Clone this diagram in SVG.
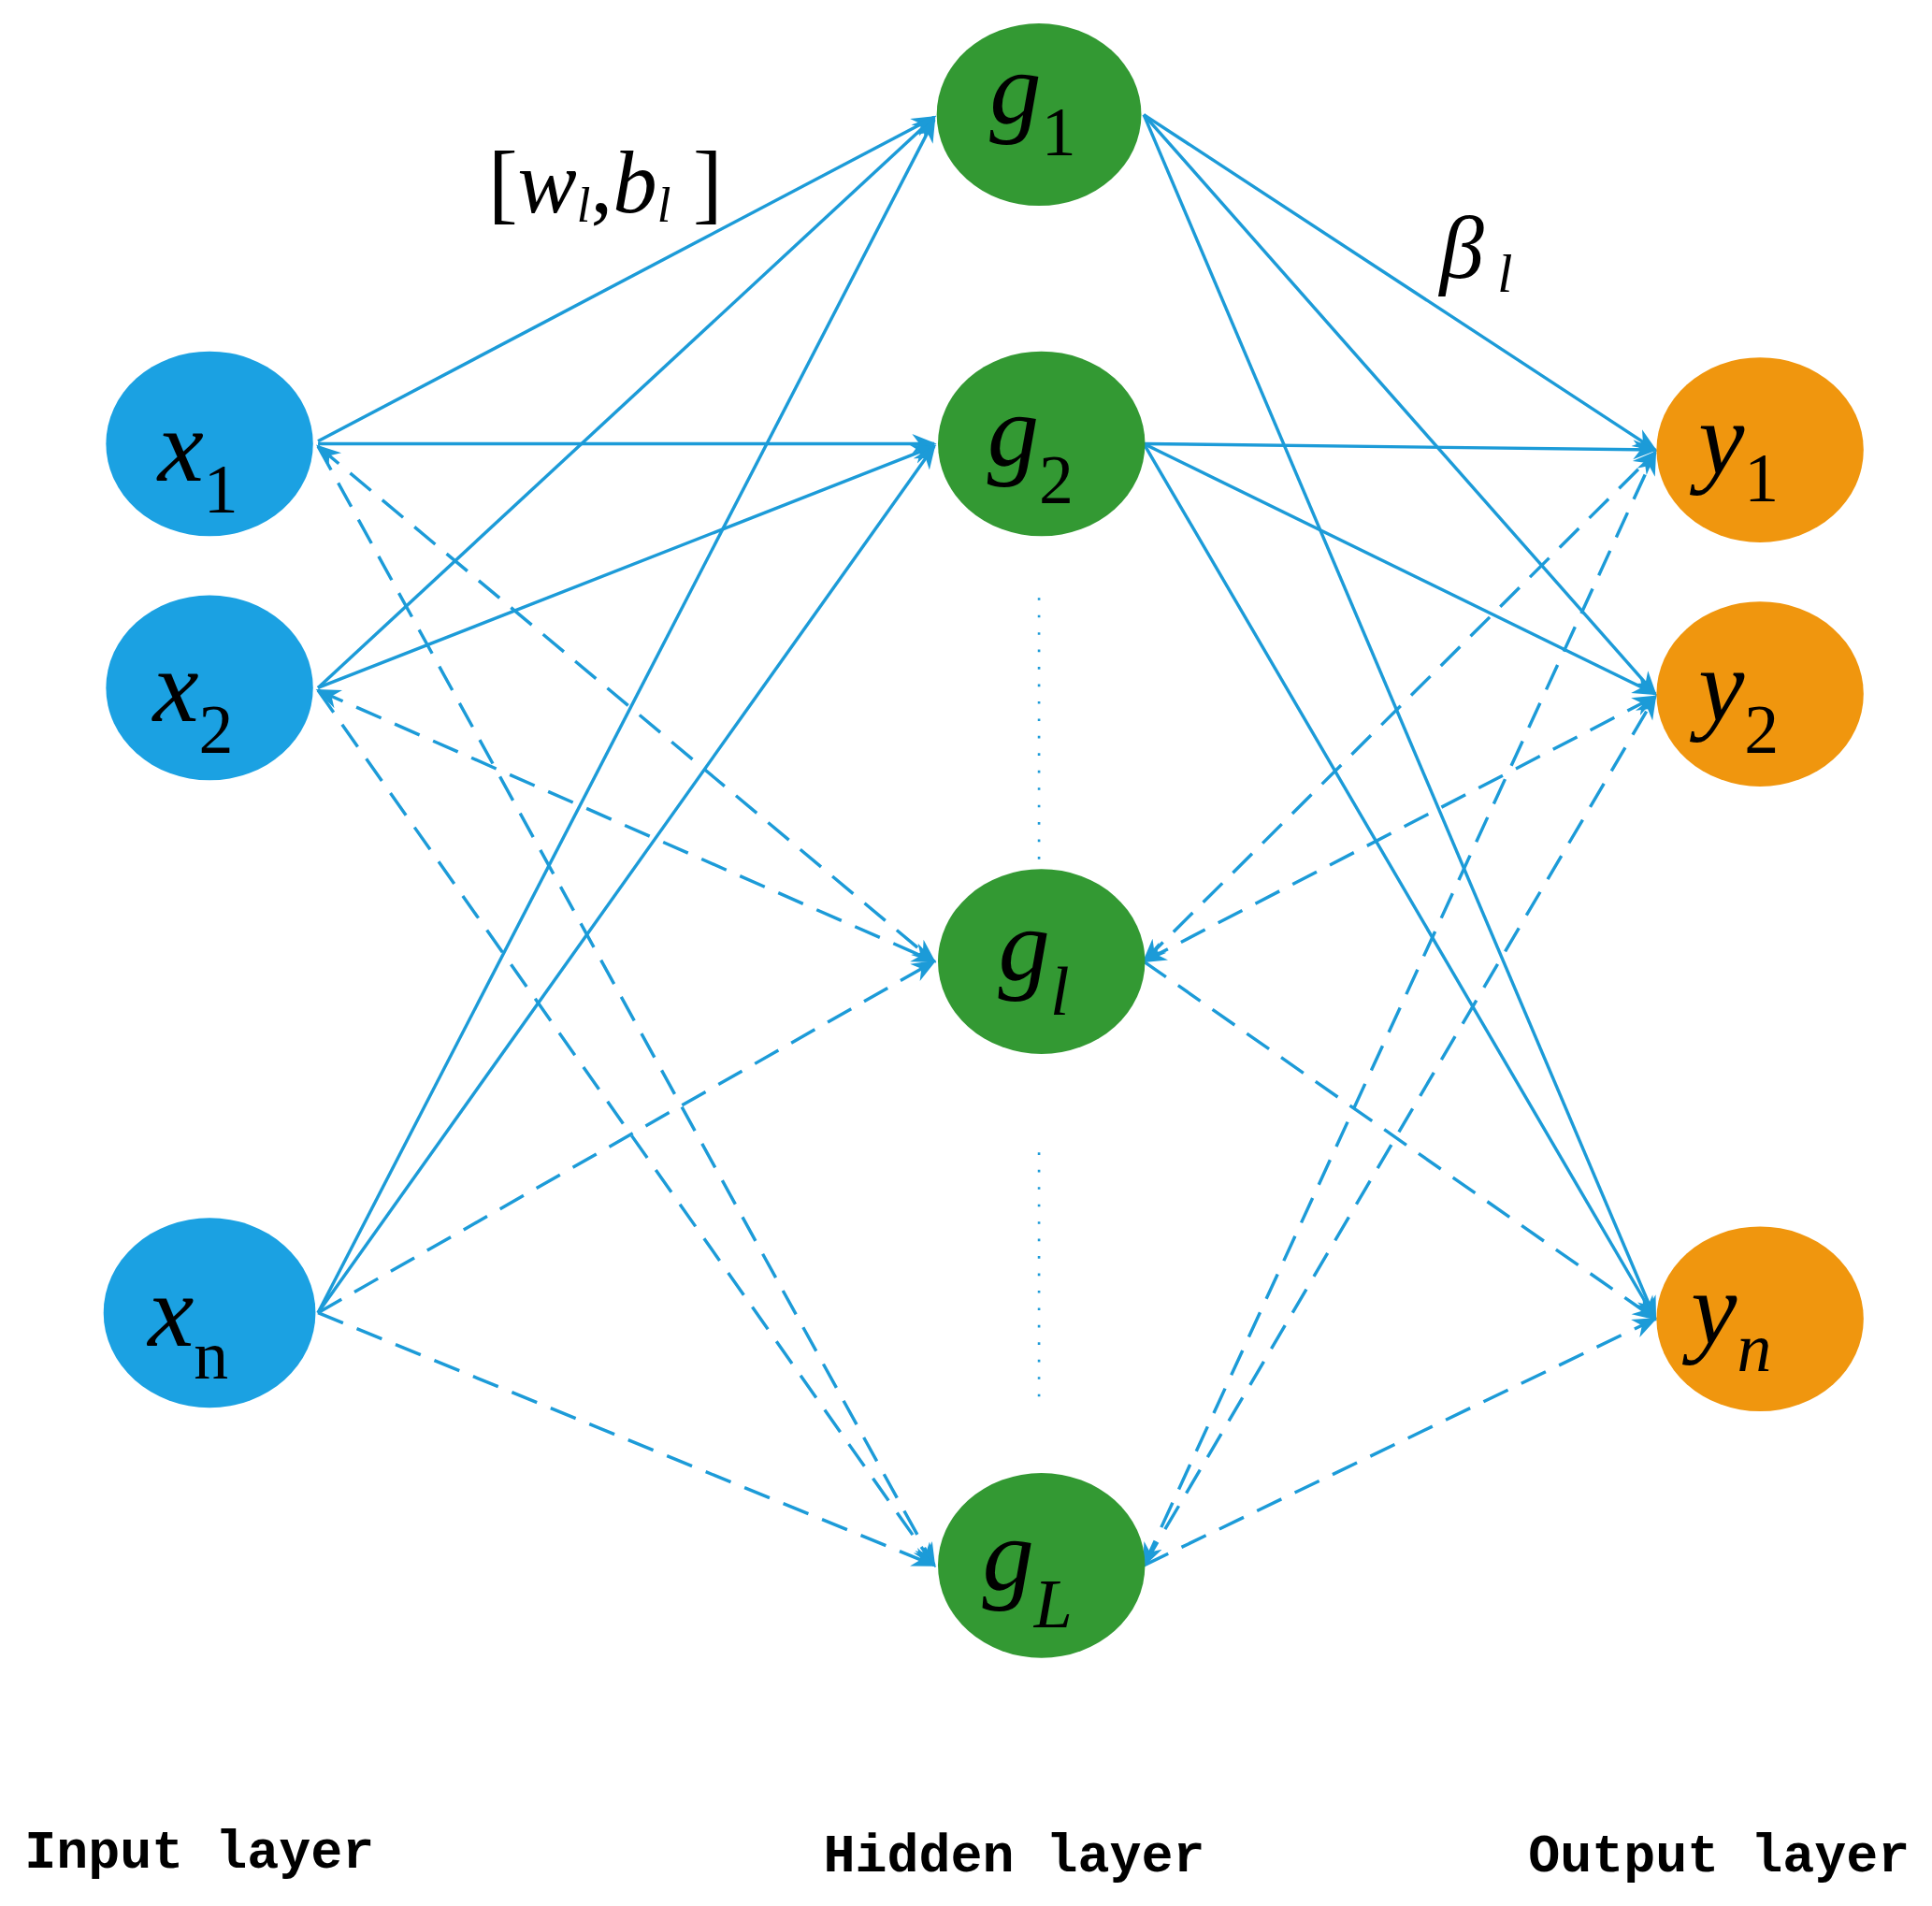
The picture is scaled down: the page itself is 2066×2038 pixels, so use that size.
<svg xmlns="http://www.w3.org/2000/svg" width="2066" height="2038" viewBox="0 0 2066 2038">
<style>
.in{fill:#1ba1e2}.hid{fill:#339933}.out{fill:#f0960e}
.s{stroke:#1c9bd8;stroke-width:2.6;fill:none}
.d{stroke:#1c9bd8;stroke-width:2.6;fill:none;stroke-dasharray:22 12}
.dot{stroke:#1c9bd8;stroke-width:2;stroke-dasharray:2 12;fill:none}
.m{font-family:"Liberation Serif",serif;font-style:italic;font-size:84px;fill:#000}
.sub{font-family:"Liberation Serif",serif;font-size:56px;font-style:normal}
.subi{font-family:"Liberation Serif",serif;font-size:56px;font-style:italic}
.lab{font-family:"Liberation Mono",monospace;font-size:43px;font-weight:bold;fill:#000}
</style>
<defs>
<marker id="a" viewBox="0 0 10 10" refX="9" refY="5" markerWidth="7" markerHeight="7" orient="auto-start-reverse" markerUnits="userSpaceOnUse"><path d="M0,1 L10,5 L0,9 z" fill="#1c9bd8" transform="scale(1)"/></marker>
<marker id="b" viewBox="0 0 10 10" refX="9" refY="5" markerWidth="20" markerHeight="20" orient="auto-start-reverse" markerUnits="userSpaceOnUse"><path d="M0,1 L10,5 L0,9 L3,5 z" fill="#1c9bd8"/></marker>
</defs>
<g transform="scale(1.318)">
<g id="connectors">
<line class="s" x1="258" y1="358" x2="758" y2="95" marker-end="url(#b)"/>
<line class="s" x1="258" y1="360" x2="758" y2="360" marker-end="url(#b)"/>
<line class="s" x1="258" y1="558" x2="758" y2="95" marker-end="url(#b)"/>
<line class="s" x1="258" y1="558" x2="758" y2="362" marker-end="url(#b)"/>
<line class="s" x1="258" y1="1065" x2="758" y2="97" marker-end="url(#b)"/>
<line class="s" x1="258" y1="1065" x2="758" y2="362" marker-end="url(#b)"/>
<line class="d" x1="258" y1="362" x2="758" y2="780" marker-start="url(#b)" marker-end="url(#b)"/>
<line class="d" x1="258" y1="362" x2="758" y2="1270" marker-end="url(#b)"/>
<line class="d" x1="258" y1="560" x2="758" y2="780" marker-start="url(#b)" marker-end="url(#b)"/>
<line class="d" x1="258" y1="560" x2="758" y2="1270" marker-end="url(#b)"/>
<line class="d" x1="258" y1="1065" x2="758" y2="780" marker-end="url(#b)"/>
<line class="d" x1="258" y1="1065" x2="758" y2="1270" marker-end="url(#b)"/>
<line class="s" x1="928" y1="93" x2="1343" y2="365" marker-end="url(#b)"/>
<line class="s" x1="928" y1="93" x2="1343" y2="563" marker-end="url(#b)"/>
<line class="s" x1="928" y1="93" x2="1343" y2="1070" marker-end="url(#b)"/>
<line class="s" x1="928" y1="360" x2="1343" y2="365" marker-end="url(#b)"/>
<line class="s" x1="928" y1="360" x2="1343" y2="563" marker-end="url(#b)"/>
<line class="s" x1="928" y1="360" x2="1343" y2="1070" marker-end="url(#b)"/>
<line class="d" x1="928" y1="780" x2="1343" y2="367" marker-start="url(#b)" marker-end="url(#b)"/>
<line class="d" x1="928" y1="780" x2="1343" y2="565" marker-start="url(#b)" marker-end="url(#b)"/>
<line class="d" x1="928" y1="780" x2="1343" y2="1070" marker-end="url(#b)"/>
<line class="d" x1="928" y1="1270" x2="1343" y2="367" marker-start="url(#b)" marker-end="url(#b)"/>
<line class="d" x1="928" y1="1270" x2="1343" y2="565" marker-end="url(#b)"/>
<line class="d" x1="928" y1="1270" x2="1343" y2="1070" marker-end="url(#b)"/>
<line class="dot" x1="843" y1="485" x2="843" y2="705"/>
<line class="dot" x1="843" y1="935" x2="843" y2="1135"/>
</g>
<g id="x1"><ellipse class="in" cx="170" cy="360" rx="84" ry="75"/><text class="m" x="128" y="390">x<tspan class="sub" dy="26">1</tspan></text></g>
<g id="x2"><ellipse class="in" cx="170" cy="558" rx="84" ry="75"/><text class="m" x="124" y="585">x<tspan class="sub" dy="26">2</tspan></text></g>
<g id="xn"><ellipse class="in" cx="170" cy="1065" rx="86" ry="77"/><text class="m" x="120" y="1092">x<tspan class="sub" dy="26">n</tspan></text></g>
<g id="g1"><ellipse class="hid" cx="843" cy="93" rx="83" ry="74"/><text class="m" x="803" y="100">g<tspan class="sub" dy="26">1</tspan></text></g>
<g id="g2"><ellipse class="hid" cx="845" cy="360" rx="84" ry="75"/><text class="m" x="801" y="378">g<tspan class="sub" dy="30">2</tspan></text></g>
<g id="gl"><ellipse class="hid" cx="845" cy="780" rx="84" ry="75"/><text class="m" x="810" y="795">g<tspan class="subi" dy="28">l</tspan></text></g>
<g id="gL"><ellipse class="hid" cx="845" cy="1270" rx="84" ry="75"/><text class="m" x="797" y="1290">g<tspan class="subi" dy="30">L</tspan></text></g>
<g id="y1"><ellipse class="out" cx="1428" cy="365" rx="84" ry="75"/><text class="m" x="1378" y="385">y<tspan class="sub" dy="22">1</tspan></text></g>
<g id="y2"><ellipse class="out" cx="1428" cy="563" rx="84" ry="75"/><text class="m" x="1378" y="585">y<tspan class="sub" dy="26">2</tspan></text></g>
<g id="yn"><ellipse class="out" cx="1428" cy="1070" rx="84" ry="75"/><text class="m" x="1372" y="1090">y<tspan class="subi" dy="22">n</tspan></text></g>
<text font-family="Liberation Serif,serif" font-size="72" x="396" y="172">[<tspan font-style="italic">w</tspan><tspan font-style="italic" font-size="40" dy="8">l</tspan><tspan dy="-8">,</tspan><tspan font-style="italic">b</tspan><tspan font-style="italic" font-size="40" dy="8">l</tspan><tspan dy="-8"> ]</tspan></text>
<text font-family="Liberation Serif,serif" font-style="italic" font-size="72" x="1168" y="225">β<tspan font-size="44" dy="12"> l</tspan></text>
<text class="lab" x="20" y="1515">Input layer</text>
<text class="lab" x="668" y="1518">Hidden layer</text>
<text class="lab" x="1240" y="1518">Output layer</text>
</g>
</svg>
